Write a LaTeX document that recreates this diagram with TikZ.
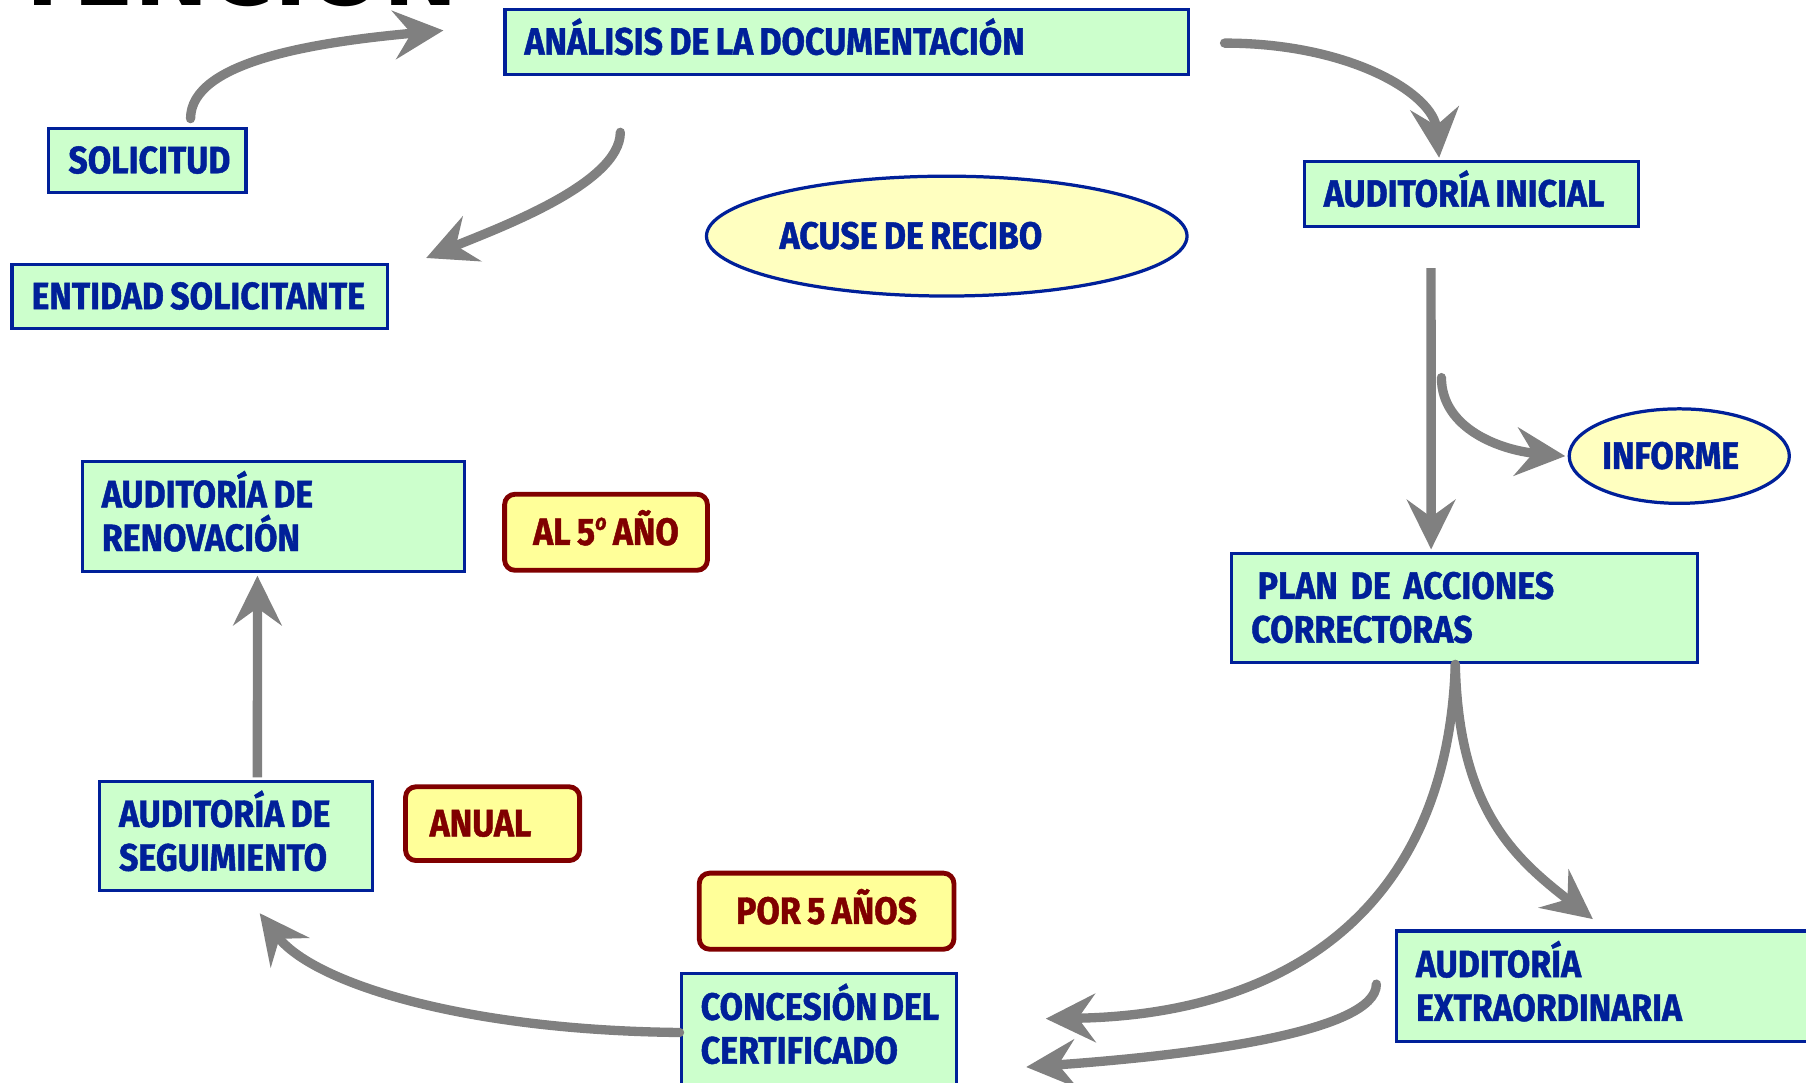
\documentclass[tikz,border=0pt]{standalone}
\usepackage{fontspec}
\newfontfamily\boxfont[FakeStretch=0.89,FakeBold=1.2,WordSpace=0.8]{Fira Sans}
\newfontfamily\titlefont{DejaVu Sans}
\usetikzlibrary{arrows.meta,shapes.geometric,scopes}
\hyphenpenalty=10000

\definecolor{boxgreen}{HTML}{CCFFCC}
\definecolor{boxblue}{HTML}{002099}
\definecolor{ovalyellow}{HTML}{FFFFC0}
\definecolor{tagyellow}{HTML}{FFFF99}
\definecolor{tagred}{HTML}{800000}
\definecolor{flowgray}{HTML}{808080}

\newcommand\ordo{\raisebox{0.75ex}{\fontsize{5.5}{5.5}\selectfont\itshape o}}

\tikzset{
  boxtext/.style={font=\boxfont\bfseries\fontsize{9.4}{10.8}\selectfont},
  box/.style={boxtext, draw=boxblue, fill=boxgreen, line width=0.8pt, text=boxblue,
              anchor=north west, align=flush left, inner xsep=0.17cm, inner ysep=0pt},
  oval/.style={boxtext, ellipse, draw=boxblue, fill=ovalyellow, line width=0.8pt,
              text=boxblue, align=flush left, inner sep=0pt, text height=0.22cm, text depth=0pt},
  tag/.style={boxtext, draw=tagred, fill=tagyellow, line width=1.2pt, rounded corners=0.09cm,
              text=tagred, anchor=north west, inner sep=0pt, text height=0.22cm, text depth=0pt},
  oneline/.style={text height=0.22cm, text depth=0pt, minimum height=0.56cm},
  twoline/.style={text height=0.22cm, text depth=0.38cm, minimum height=0.96cm},
  flow/.style={draw=flowgray, line width=2.3pt, line cap=round,
               -{Stealth[length=0.43cm,width=0.42cm,inset=0.15cm]}},
}

\begin{document}
\begin{tikzpicture}[x=0.01cm,y=-0.01cm]
\useasboundingbox (0,0) rectangle (1568,940);

% title, mostly above the page
\node (title) [anchor=base east, font=\titlefont\bfseries\fontsize{22}{22}\selectfont] at (410,5) {OBTENCIÓN};

\path node[box,oneline,text width=5.59cm] (ana)  at (437,7)    {ANÁLISIS~DE~LA~DOCUMENTACIÓN}
      node[box,oneline,text width=1.37cm] (sol)  at (41,110)   {SOLICITUD}
      node[box,oneline,text width=2.92cm] (ent)  at (9,228)    {ENTIDAD~SOLICITANTE}
      node[box,oneline,text width=2.56cm] (ini)  at (1131,139) {AUDITORÍA~INICIAL}
      node[box,twoline,text width=3.70cm,minimum height=0.95cm] (plan) at (1068,479)
                                                               {\ PLAN\ \ DE\ \ ACCIONES\\CORRECTORAS}
      node[box,twoline,text width=3.45cm] (ext)  at (1211,807) {AUDITORÍA\\EXTRAORDINARIA}
      node[box,twoline,text width=2.05cm] (con)  at (590,844)  {CONCESIÓN~DEL\\CERTIFICADO}
      node[box,twoline,text width=2.03cm,minimum height=0.95cm] (seg)  at (85,677)
                                                               {AUDITORÍA~DE\\SEGUIMIENTO}
      node[box,twoline,text width=2.98cm] (ren)  at (70,399)   {AUDITORÍA~DE\\RENOVACIÓN}
      node[oval,text width=2.90cm,minimum width=4.17cm,minimum height=1.04cm] (acu) at (822,205)
                                                               {ACUSE~DE~RECIBO}
      node[oval,text width=1.34cm,minimum width=1.91cm,minimum height=0.82cm] (inf) at (1458,396)
                                                               {INFORME}
      node[tag,minimum width=1.76cm,minimum height=0.66cm] (quinto) at (436,427) {AL 5\ordo\ AÑO}
      node[tag,minimum width=1.51cm,minimum height=0.64cm,inner xsep=0.21cm,
           text width=1.09cm,align=flush left] (anual) at (350,681)  {ANUAL}
      node[tag,minimum width=2.21cm,minimum height=0.66cm] (cinco) at (605,756)  {POR 5 AÑOS};

{ [flow]
  \draw ([shift={(37.5,-7)}]sol.north) .. controls +(0,-50) and +(-110,10) .. ([shift={(-52,-10)}]ana.west);
  \draw ([shift={(-196.5,49)}]ana.south) .. controls +(0,45) and +(60,-25) .. ([shift={(32,-4)}]ent.north east);
  \draw ([shift={(30,1)}]ana.east) .. controls +(110,0) and +(-5,-55) .. ([shift={(-28,-2)}]ini.north);
  \draw ([shift={(-26,130)}]ini.south) .. controls +(0,45) and +(-55,-5) .. ([shift={(-2,0)}]inf.west);

  {[line cap=butt]
  \draw ([shift={(-35,35)}]ini.south) -- ([shift={(-29,-2)}]plan.north);
  \draw ([shift={(18.5,-2)}]seg.north) -- ([shift={(-14,2)}]ren.south);
  }

  \draw ([shift={(-8,0)}]plan.south) .. controls +(-7,216) and +(205,-3) .. ([shift={(76,-9)}]con.east);
  \draw ([shift={(-8,0)}]plan.south) .. controls +(3,126) and +(-68,-53) .. ([shift={(172,-9)}]ext.north west);
  \draw ([shift={(-16,-2)}]ext.west) .. controls +(0,42) and +(142,-10) .. ([shift={(59,33)}]con.east);
  \draw ([shift={(0,3)}]con.west) .. controls +(-190,-2) and +(46,60) .. ([shift={(20.5,18)}]seg.south);
}
\end{tikzpicture}
\end{document}
